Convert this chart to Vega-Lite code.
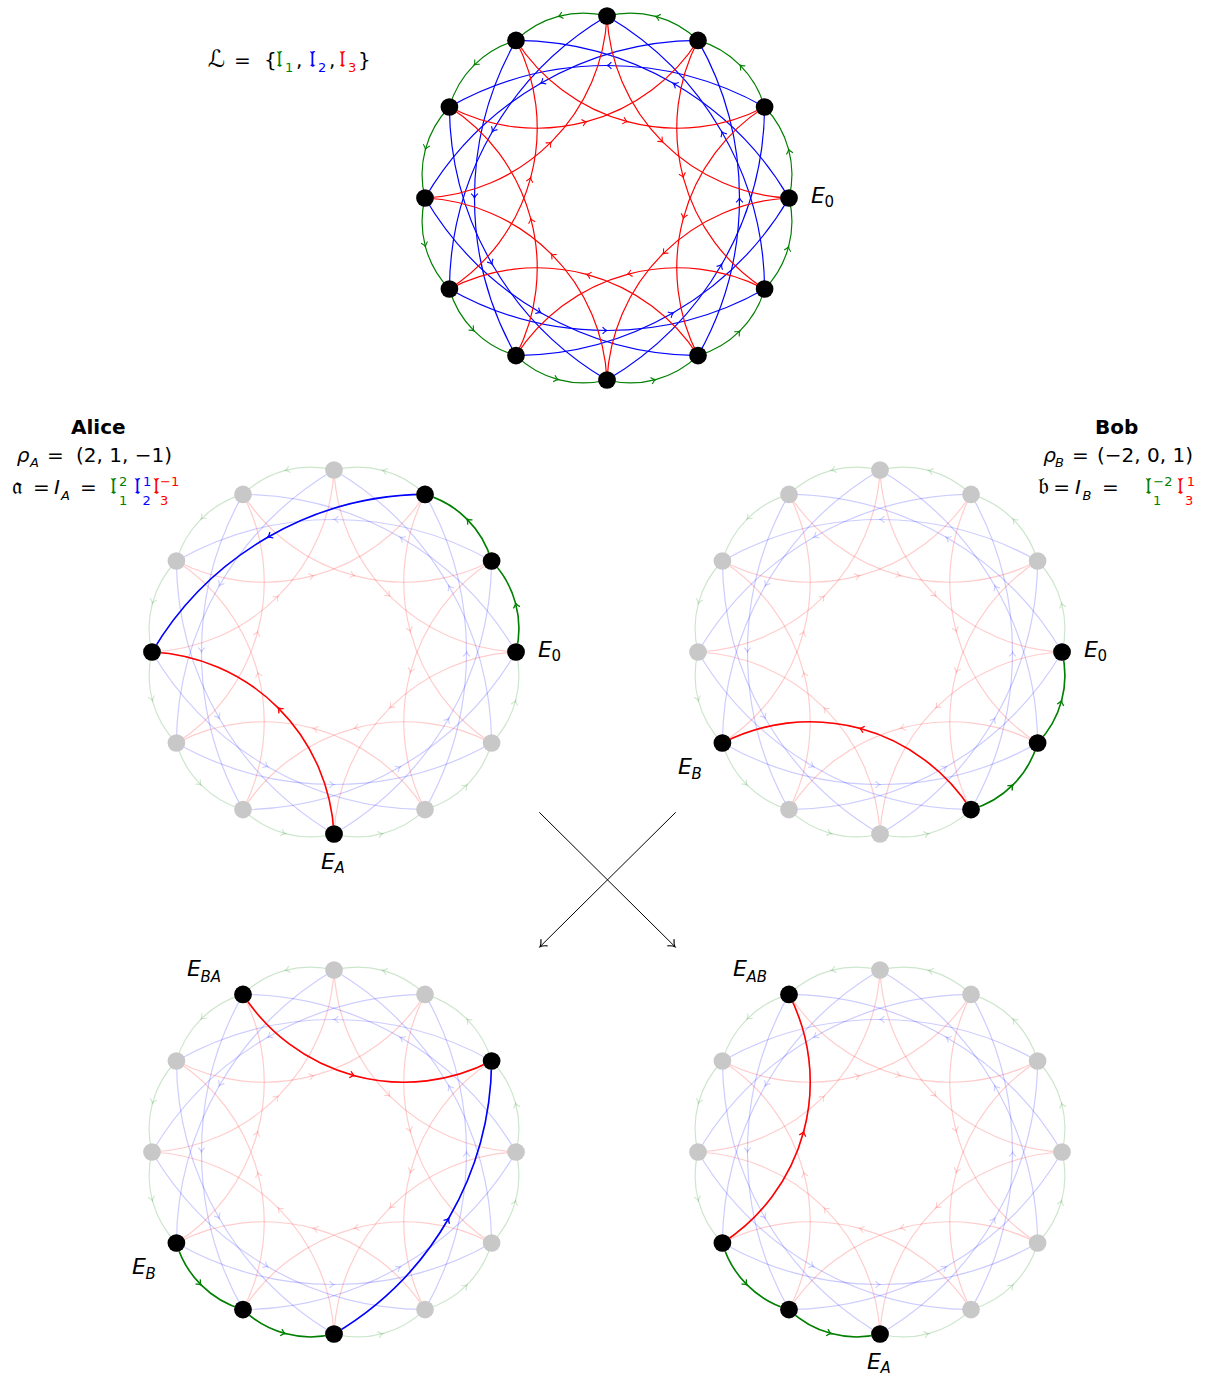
{
"$schema": "https://vega.github.io/schema/vega-lite/v6.json",
"padding": 0,
"background": "white",
"spacing": 0,
"bounds": "flush",
"config": {"view": {"stroke": null}, "axis": {"disable": true}, "header": {"labels": false, "title": null, "labelExpr": "''", "labelColor": "transparent"}, "headerFacet": {"labels": false, "title": null, "labelExpr": "''", "labelColor": "transparent"}},
"datasets": {
"geo": [
{"k":"a","c":"g","x":23.55,"y":-87.9,"t1":-0.2452,"t2":0.7688,"h":[],"ps":["A","B","BA","AB"]},
{"k":"a","c":"g","x":64.35,"y":-64.35,"t1":0.2784,"t2":1.2924,"h":["A"],"ps":["A","B","BA","AB"]},
{"k":"a","c":"g","x":87.9,"y":-23.55,"t1":0.802,"t2":1.816,"h":["A"],"ps":["A","B","BA","AB"]},
{"k":"a","c":"g","x":87.9,"y":23.55,"t1":1.3256,"t2":2.3396,"h":["B"],"ps":["A","B","BA","AB"]},
{"k":"a","c":"g","x":64.35,"y":64.35,"t1":1.8492,"t2":2.8632,"h":["B"],"ps":["A","B","BA","AB"]},
{"k":"a","c":"g","x":23.55,"y":87.9,"t1":2.3728,"t2":3.3868,"h":[],"ps":["A","B","BA","AB"]},
{"k":"a","c":"g","x":-23.55,"y":87.9,"t1":2.8964,"t2":3.9104,"h":["BA","AB"],"ps":["A","B","BA","AB"]},
{"k":"a","c":"g","x":-64.35,"y":64.35,"t1":3.42,"t2":4.434,"h":["BA","AB"],"ps":["A","B","BA","AB"]},
{"k":"a","c":"g","x":-87.9,"y":23.55,"t1":3.9436,"t2":4.9576,"h":[],"ps":["A","B","BA","AB"]},
{"k":"a","c":"g","x":-87.9,"y":-23.55,"t1":4.4672,"t2":5.4812,"h":[],"ps":["A","B","BA","AB"]},
{"k":"a","c":"g","x":-64.35,"y":-64.35,"t1":4.9908,"t2":6.0048,"h":[],"ps":["A","B","BA","AB"]},
{"k":"a","c":"g","x":-23.55,"y":-87.9,"t1":5.5144,"t2":6.5284,"h":[],"ps":["A","B","BA","AB"]},
{"k":"a","c":"b","x":0,"y":187.6,"t1":-0.5149,"t2":0.5149,"h":[],"ps":["A","B","BA","AB"]},
{"k":"a","c":"b","x":-93.8,"y":162.46,"t1":0.0087,"t2":1.0385,"h":[],"ps":["A","B","BA","AB"]},
{"k":"a","c":"b","x":-162.46,"y":93.8,"t1":0.5323,"t2":1.5621,"h":[],"ps":["A","B","BA","AB"]},
{"k":"a","c":"b","x":-187.6,"y":0,"t1":1.0559,"t2":2.0857,"h":[],"ps":["A","B","BA","AB"]},
{"k":"a","c":"b","x":-162.46,"y":-93.8,"t1":1.5795,"t2":2.6093,"h":["BA"],"ps":["A","B","BA","AB"]},
{"k":"a","c":"b","x":-93.8,"y":-162.46,"t1":2.1031,"t2":3.1329,"h":[],"ps":["A","B","BA","AB"]},
{"k":"a","c":"b","x":0,"y":-187.6,"t1":2.6267,"t2":3.6565,"h":[],"ps":["A","B","BA","AB"]},
{"k":"a","c":"b","x":93.8,"y":-162.46,"t1":3.1503,"t2":4.1801,"h":[],"ps":["A","B","BA","AB"]},
{"k":"a","c":"b","x":162.46,"y":-93.8,"t1":3.6739,"t2":4.7037,"h":[],"ps":["A","B","BA","AB"]},
{"k":"a","c":"b","x":187.6,"y":0,"t1":4.1975,"t2":5.2273,"h":[],"ps":["A","B","BA","AB"]},
{"k":"a","c":"b","x":162.46,"y":93.8,"t1":4.7211,"t2":5.7509,"h":[],"ps":["A","B","BA","AB"]},
{"k":"a","c":"b","x":93.8,"y":162.46,"t1":5.2447,"t2":6.2745,"h":["A"],"ps":["A","B","BA","AB"]},
{"k":"a","c":"r","x":191.27,"y":-191.27,"t1":3.1905,"t2":4.6635,"h":[],"ps":["A","B","BA","AB"]},
{"k":"a","c":"r","x":261.28,"y":-70.01,"t1":3.7141,"t2":5.1871,"h":[],"ps":["A","B","BA","AB"]},
{"k":"a","c":"r","x":261.28,"y":70.01,"t1":4.2377,"t2":5.7107,"h":[],"ps":["A","B","BA","AB"]},
{"k":"a","c":"r","x":191.27,"y":191.27,"t1":4.7613,"t2":6.2343,"h":[],"ps":["A","B","BA","AB"]},
{"k":"a","c":"r","x":70.01,"y":261.28,"t1":5.2849,"t2":6.7579,"h":[],"ps":["A","B","BA","AB"]},
{"k":"a","c":"r","x":-70.01,"y":261.28,"t1":5.8085,"t2":7.2815,"h":["B"],"ps":["A","B","BA","AB"]},
{"k":"a","c":"r","x":-191.27,"y":191.27,"t1":6.3321,"t2":7.8051,"h":["A"],"ps":["A","B","BA","AB"]},
{"k":"a","c":"r","x":-261.28,"y":70.01,"t1":6.8557,"t2":8.3287,"h":[],"ps":["A","B","BA","AB"]},
{"k":"a","c":"r","x":-261.28,"y":-70.01,"t1":7.3793,"t2":8.8523,"h":["AB"],"ps":["A","B","BA","AB"]},
{"k":"a","c":"r","x":-191.27,"y":-191.27,"t1":7.9029,"t2":9.3759,"h":[],"ps":["A","B","BA","AB"]},
{"k":"a","c":"r","x":-70.01,"y":-261.28,"t1":8.4265,"t2":9.8995,"h":[],"ps":["A","B","BA","AB"]},
{"k":"a","c":"r","x":70.01,"y":-261.28,"t1":8.9501,"t2":10.4231,"h":["BA"],"ps":["A","B","BA","AB"]},
{"k":"w","c":"g","x":48.66,"y":-181.59,"dir":195,"h":[],"ps":["A","B","BA","AB"]},
{"k":"w","c":"g","x":132.93,"y":-132.93,"dir":225,"h":["A"],"ps":["A","B","BA","AB"]},
{"k":"w","c":"g","x":181.59,"y":-48.66,"dir":255,"h":["A"],"ps":["A","B","BA","AB"]},
{"k":"w","c":"g","x":181.59,"y":48.66,"dir":285,"h":["B"],"ps":["A","B","BA","AB"]},
{"k":"w","c":"g","x":132.93,"y":132.93,"dir":315,"h":["B"],"ps":["A","B","BA","AB"]},
{"k":"w","c":"g","x":48.66,"y":181.59,"dir":345,"h":[],"ps":["A","B","BA","AB"]},
{"k":"w","c":"g","x":-48.66,"y":181.59,"dir":15,"h":["BA","AB"],"ps":["A","B","BA","AB"]},
{"k":"w","c":"g","x":-132.93,"y":132.93,"dir":45,"h":["BA","AB"],"ps":["A","B","BA","AB"]},
{"k":"w","c":"g","x":-181.59,"y":48.66,"dir":75,"h":[],"ps":["A","B","BA","AB"]},
{"k":"w","c":"g","x":-181.59,"y":-48.66,"dir":105,"h":[],"ps":["A","B","BA","AB"]},
{"k":"w","c":"g","x":-132.93,"y":-132.93,"dir":135,"h":[],"ps":["A","B","BA","AB"]},
{"k":"w","c":"g","x":-48.66,"y":-181.59,"dir":165,"h":[],"ps":["A","B","BA","AB"]},
{"k":"w","c":"b","x":0,"y":-132.5,"dir":180,"h":[],"ps":["A","B","BA","AB"]},
{"k":"w","c":"b","x":66.25,"y":-114.75,"dir":210,"h":[],"ps":["A","B","BA","AB"]},
{"k":"w","c":"b","x":114.75,"y":-66.25,"dir":240,"h":[],"ps":["A","B","BA","AB"]},
{"k":"w","c":"b","x":132.5,"y":0,"dir":270,"h":[],"ps":["A","B","BA","AB"]},
{"k":"w","c":"b","x":114.75,"y":66.25,"dir":300,"h":["BA"],"ps":["A","B","BA","AB"]},
{"k":"w","c":"b","x":66.25,"y":114.75,"dir":330,"h":[],"ps":["A","B","BA","AB"]},
{"k":"w","c":"b","x":0,"y":132.5,"dir":0,"h":[],"ps":["A","B","BA","AB"]},
{"k":"w","c":"b","x":-66.25,"y":114.75,"dir":30,"h":[],"ps":["A","B","BA","AB"]},
{"k":"w","c":"b","x":-114.75,"y":66.25,"dir":60,"h":[],"ps":["A","B","BA","AB"]},
{"k":"w","c":"b","x":-132.5,"y":0,"dir":90,"h":[],"ps":["A","B","BA","AB"]},
{"k":"w","c":"b","x":-114.75,"y":-66.25,"dir":120,"h":[],"ps":["A","B","BA","AB"]},
{"k":"w","c":"b","x":-66.25,"y":-114.75,"dir":150,"h":["A"],"ps":["A","B","BA","AB"]},
{"k":"w","c":"r","x":55.86,"y":-55.86,"dir":45,"h":[],"ps":["A","B","BA","AB"]},
{"k":"w","c":"r","x":76.31,"y":-20.45,"dir":75,"h":[],"ps":["A","B","BA","AB"]},
{"k":"w","c":"r","x":76.31,"y":20.45,"dir":105,"h":[],"ps":["A","B","BA","AB"]},
{"k":"w","c":"r","x":55.86,"y":55.86,"dir":135,"h":[],"ps":["A","B","BA","AB"]},
{"k":"w","c":"r","x":20.45,"y":76.31,"dir":165,"h":[],"ps":["A","B","BA","AB"]},
{"k":"w","c":"r","x":-20.45,"y":76.31,"dir":195,"h":["B"],"ps":["A","B","BA","AB"]},
{"k":"w","c":"r","x":-55.86,"y":55.86,"dir":225,"h":["A"],"ps":["A","B","BA","AB"]},
{"k":"w","c":"r","x":-76.31,"y":20.45,"dir":255,"h":[],"ps":["A","B","BA","AB"]},
{"k":"w","c":"r","x":-76.31,"y":-20.45,"dir":285,"h":["AB"],"ps":["A","B","BA","AB"]},
{"k":"w","c":"r","x":-55.86,"y":-55.86,"dir":315,"h":[],"ps":["A","B","BA","AB"]},
{"k":"w","c":"r","x":-20.45,"y":-76.31,"dir":345,"h":[],"ps":["A","B","BA","AB"]},
{"k":"w","c":"r","x":20.45,"y":-76.31,"dir":15,"h":["BA"],"ps":["A","B","BA","AB"]},
{"k":"n","x":0,"y":-182,"h":[],"ps":["A","B","BA","AB"]},
{"k":"n","x":91,"y":-157.6,"h":["A"],"ps":["A","B","BA","AB"]},
{"k":"n","x":157.6,"y":-91,"h":["A","BA"],"ps":["A","B","BA","AB"]},
{"k":"n","x":182,"y":0,"h":["A","B"],"ps":["A","B","BA","AB"]},
{"k":"n","x":157.6,"y":91,"h":["B"],"ps":["A","B","BA","AB"]},
{"k":"n","x":91,"y":157.6,"h":["B"],"ps":["A","B","BA","AB"]},
{"k":"n","x":0,"y":182,"h":["A","BA","AB"],"ps":["A","B","BA","AB"]},
{"k":"n","x":-91,"y":157.6,"h":["BA","AB"],"ps":["A","B","BA","AB"]},
{"k":"n","x":-157.6,"y":91,"h":["B","BA","AB"],"ps":["A","B","BA","AB"]},
{"k":"n","x":-182,"y":0,"h":["A"],"ps":["A","B","BA","AB"]},
{"k":"n","x":-157.6,"y":-91,"h":[],"ps":["A","B","BA","AB"]},
{"k":"n","x":-91,"y":-157.6,"h":["BA","AB"],"ps":["A","B","BA","AB"]},
{"k":"x","x":205.3,"y":160.3,"x2":341,"y2":294.7,"dir":44.7,"ps":["A"]},
{"k":"x","x":341.7,"y":160.3,"x2":206,"y2":294.7,"dir":135.3,"ps":["A"]},
{"k":"t","t":"E","x":204,"y":4.7,"role":"E","c":"k","ps":["A","B"]},
{"k":"t","t":"0","x":217.5,"y":9.3,"role":"Eu","c":"k","ps":["A","B"]},
{"k":"t","t":"E","x":-13,"y":216.5,"role":"E","c":"k","ps":["A","AB"]},
{"k":"t","t":"A","x":0.5,"y":221,"role":"Es","c":"k","ps":["A","AB"]},
{"k":"t","t":"E","x":-202,"y":122,"role":"E","c":"k","ps":["B","BA"]},
{"k":"t","t":"B","x":-188.5,"y":127,"role":"Es","c":"k","ps":["B","BA"]},
{"k":"t","t":"E","x":-147,"y":-176.3,"role":"E","c":"k","ps":["BA","AB"]},
{"k":"t","t":"BA","x":-133.5,"y":-169.7,"role":"Es","c":"k","ps":["BA"]},
{"k":"t","t":"AB","x":-133.5,"y":-169.7,"role":"Es","c":"k","ps":["AB"]},
{"k":"t","t":"Alice","x":-235.7,"y":-217.7,"role":"h","c":"k","ps":["A"]},
{"k":"t","t":"ρ","x":-317.3,"y":-190,"role":"v","c":"k","ps":["A"]},
{"k":"t","t":"A","x":-304,"y":-185,"role":"vs","c":"k","ps":["A"]},
{"k":"t","t":"=","x":-287,"y":-190,"role":"o","c":"k","ps":["A"]},
{"k":"t","t":"(2, 1, −1)","x":-258,"y":-190,"role":"o","c":"k","ps":["A"]},
{"k":"t","t":"𝔞","x":-322.3,"y":-158,"role":"f","c":"k","ps":["A"]},
{"k":"t","t":"=","x":-301,"y":-158,"role":"o","c":"k","ps":["A"]},
{"k":"t","t":"I","x":-280,"y":-158,"role":"v","c":"k","ps":["A"]},
{"k":"t","t":"A","x":-273,"y":-152,"role":"vs","c":"k","ps":["A"]},
{"k":"t","t":"=","x":-254,"y":-158,"role":"o","c":"k","ps":["A"]},
{"k":"t","t":"𝔩","x":-224,"y":-158,"role":"f","c":"g","ps":["A"]},
{"k":"t","t":"2","x":-215,"y":-166,"role":"ns","c":"g","ps":["A"]},
{"k":"t","t":"1","x":-215,"y":-147,"role":"ns","c":"g","ps":["A"]},
{"k":"t","t":"𝔩","x":-200,"y":-158,"role":"f","c":"b","ps":["A"]},
{"k":"t","t":"1","x":-191,"y":-166,"role":"ns","c":"b","ps":["A"]},
{"k":"t","t":"2","x":-191.5,"y":-147,"role":"ns","c":"b","ps":["A"]},
{"k":"t","t":"𝔩","x":-181,"y":-158,"role":"f","c":"r","ps":["A"]},
{"k":"t","t":"−1","x":-174,"y":-166,"role":"ns","c":"r","ps":["A"]},
{"k":"t","t":"3","x":-174,"y":-147,"role":"ns","c":"r","ps":["A"]},
{"k":"t","t":"Bob","x":236.7,"y":-217.7,"role":"h","c":"k","ps":["B"]},
{"k":"t","t":"ρ","x":163.3,"y":-190,"role":"v","c":"k","ps":["B"]},
{"k":"t","t":"B","x":175,"y":-185,"role":"vs","c":"k","ps":["B"]},
{"k":"t","t":"=","x":192,"y":-190,"role":"o","c":"k","ps":["B"]},
{"k":"t","t":"(−2, 0, 1)","x":217,"y":-190,"role":"o","c":"k","ps":["B"]},
{"k":"t","t":"𝔟","x":158.3,"y":-158,"role":"f","c":"k","ps":["B"]},
{"k":"t","t":"=","x":173.3,"y":-158,"role":"o","c":"k","ps":["B"]},
{"k":"t","t":"I","x":195,"y":-158,"role":"v","c":"k","ps":["B"]},
{"k":"t","t":"B","x":202.5,"y":-152,"role":"vs","c":"k","ps":["B"]},
{"k":"t","t":"=","x":222,"y":-158,"role":"o","c":"k","ps":["B"]},
{"k":"t","t":"𝔩","x":265,"y":-158,"role":"f","c":"g","ps":["B"]},
{"k":"t","t":"−2","x":273.3,"y":-166,"role":"ns","c":"g","ps":["B"]},
{"k":"t","t":"1","x":273,"y":-147,"role":"ns","c":"g","ps":["B"]},
{"k":"t","t":"𝔩","x":297,"y":-158,"role":"f","c":"r","ps":["B"]},
{"k":"t","t":"1","x":306.7,"y":-166,"role":"ns","c":"r","ps":["B"]},
{"k":"t","t":"3","x":305,"y":-147,"role":"ns","c":"r","ps":["B"]}
],
"top": [
{"t":"E","x":204,"y":4.7,"role":"E","c":"k"},
{"t":"0","x":217.5,"y":9.3,"role":"Eu","c":"k"},
{"t":"ℒ","x":-399,"y":-131,"role":"f","c":"k"},
{"t":"=","x":-373,"y":-131,"role":"o","c":"k"},
{"t":"{","x":-343,"y":-131,"role":"o","c":"k"},
{"t":"𝔩","x":-331,"y":-131,"role":"f","c":"g"},
{"t":"1","x":-322,"y":-126,"role":"ns","c":"g"},
{"t":",","x":-311,"y":-131,"role":"o","c":"k"},
{"t":"𝔩","x":-298,"y":-131,"role":"f","c":"b"},
{"t":"2","x":-289,"y":-126,"role":"ns","c":"b"},
{"t":",","x":-278,"y":-131,"role":"o","c":"k"},
{"t":"𝔩","x":-268,"y":-131,"role":"f","c":"r"},
{"t":"3","x":-259,"y":-126,"role":"ns","c":"r"},
{"t":"}","x":-249,"y":-131,"role":"o","c":"k"}
]
},
"vconcat": [
{
"width": 1211, "height": 402,
"data": {"name": "geo"},
"encoding": {
"x": {"field": "x", "type": "quantitative", "scale": {"domain": [-607, 604], "nice": false, "zero": false}},
"y": {"field": "y", "type": "quantitative", "scale": {"domain": [-198, 204], "nice": false, "zero": false, "reverse": true}}
},
"layer": [
{"transform": [{"filter": "datum.k=='a' && datum.c=='g'"}], "mark": {"type": "arc", "filled": false, "radius": 97, "radius2": 97, "strokeWidth": 1.2}, "encoding": {"theta": {"field": "t1", "type": "quantitative", "scale": null, "stack": null}, "theta2": {"field": "t2"}, "stroke": {"field": "c", "type": "nominal", "scale": {"domain": ["g","b","r"], "range": ["#008000","#0000ff","#ff0000"]}, "legend": null}}},
{"transform": [{"filter": "datum.k=='a' && datum.c=='b'"}], "mark": {"type": "arc", "filled": false, "radius": 320.1, "radius2": 320.1, "strokeWidth": 1.2}, "encoding": {"theta": {"field": "t1", "type": "quantitative", "scale": null, "stack": null}, "theta2": {"field": "t2"}, "stroke": {"field": "c", "type": "nominal", "scale": {"domain": ["g","b","r"], "range": ["#008000","#0000ff","#ff0000"]}, "legend": null}}},
{"transform": [{"filter": "datum.k=='a' && datum.c=='r'"}], "mark": {"type": "arc", "filled": false, "radius": 191.5, "radius2": 191.5, "strokeWidth": 1.2}, "encoding": {"theta": {"field": "t1", "type": "quantitative", "scale": null, "stack": null}, "theta2": {"field": "t2"}, "stroke": {"field": "c", "type": "nominal", "scale": {"domain": ["g","b","r"], "range": ["#008000","#0000ff","#ff0000"]}, "legend": null}}},
{"transform": [{"filter": "datum.k=='w'"}], "mark": {"type": "point", "shape": "M-1.1,-0.85Q-0.5,-0.15,0,0Q-0.5,0.15,-1.1,0.85", "size": 64, "strokeWidth": 1.1, "opacity": 1, "filled": false}, "encoding": {"angle": {"field": "dir", "type": "quantitative", "scale": null}, "stroke": {"field": "c", "type": "nominal", "scale": {"domain": ["g","b","r"], "range": ["#008000","#0000ff","#ff0000"]}, "legend": null}}},
{"transform": [{"filter": "datum.k=='n'"}], "mark": {"type": "circle", "size": 314, "color": "#000000", "opacity": 1}},
{"data": {"name": "top"}, "transform": [{"filter": "datum.role=='E' || datum.role=='Es' || datum.role=='v' || datum.role=='vs'"}], "mark": {"type": "text", "align": "left", "baseline": "alphabetic", "font": "DejaVu Sans", "fontStyle": "italic"}, "encoding": {"text": {"field": "t"}, "size": {"field": "role", "type": "ordinal", "scale": {"type": "ordinal", "domain": ["E","Es","Eu","v","o","vs","ns","h","f"], "range": [22,15,15,20,20,13,13,20,24]}, "legend": null}, "color": {"field": "c", "type": "nominal", "scale": {"domain": ["k","g","b","r"], "range": ["#000000","#008000","#0000ff","#ff0000"]}, "legend": null}}},
{"data": {"name": "top"}, "transform": [{"filter": "datum.role=='Eu' || datum.role=='o' || datum.role=='ns' || datum.role=='f'"}], "mark": {"type": "text", "align": "left", "baseline": "alphabetic", "font": "DejaVu Sans"}, "encoding": {"text": {"field": "t"}, "size": {"field": "role", "type": "ordinal", "scale": {"type": "ordinal", "domain": ["E","Es","Eu","v","o","vs","ns","h","f"], "range": [22,15,15,20,20,13,13,20,24]}, "legend": null}, "color": {"field": "c", "type": "nominal", "scale": {"domain": ["k","g","b","r"], "range": ["#000000","#008000","#0000ff","#ff0000"]}, "legend": null}}}
]
},
{
"data": {"name": "geo"},
"transform": [{"flatten": ["ps"], "as": ["p"]}],
"facet": {"field": "p", "type": "nominal", "sort": ["A","B","BA","AB"], "title": null, "header": {"labels": false, "title": null, "labelExpr": "''", "labelColor": "transparent"}},
"columns": 2,
"spacing": {"row": 26, "column": 0},
"bounds": "flush",
"spec": {
"width": 546, "height": 474,
"encoding": {
"x": {"field": "x", "type": "quantitative", "scale": {"domain": [-334, 212], "nice": false, "zero": false}},
"y": {"field": "y", "type": "quantitative", "scale": {"domain": [-250, 224], "nice": false, "zero": false, "reverse": true}}
},
"layer": [
{"transform": [{"filter": "datum.k=='a' && datum.c=='g'"}], "mark": {"type": "arc", "filled": false, "radius": 97, "radius2": 97, "strokeWidth": 1.2, "strokeOpacity": 0.2}, "encoding": {"theta": {"field": "t1", "type": "quantitative", "scale": null, "stack": null}, "theta2": {"field": "t2"}, "stroke": {"field": "c", "type": "nominal", "scale": {"domain": ["g","b","r"], "range": ["#008000","#0000ff","#ff0000"]}, "legend": null}}},
{"transform": [{"filter": "datum.k=='a' && datum.c=='b'"}], "mark": {"type": "arc", "filled": false, "radius": 320.1, "radius2": 320.1, "strokeWidth": 1.2, "strokeOpacity": 0.2}, "encoding": {"theta": {"field": "t1", "type": "quantitative", "scale": null, "stack": null}, "theta2": {"field": "t2"}, "stroke": {"field": "c", "type": "nominal", "scale": {"domain": ["g","b","r"], "range": ["#008000","#0000ff","#ff0000"]}, "legend": null}}},
{"transform": [{"filter": "datum.k=='a' && datum.c=='r'"}], "mark": {"type": "arc", "filled": false, "radius": 191.5, "radius2": 191.5, "strokeWidth": 1.2, "strokeOpacity": 0.2}, "encoding": {"theta": {"field": "t1", "type": "quantitative", "scale": null, "stack": null}, "theta2": {"field": "t2"}, "stroke": {"field": "c", "type": "nominal", "scale": {"domain": ["g","b","r"], "range": ["#008000","#0000ff","#ff0000"]}, "legend": null}}},
{"transform": [{"filter": "datum.k=='w'"}], "mark": {"type": "point", "shape": "M-1.1,-0.85Q-0.5,-0.15,0,0Q-0.5,0.15,-1.1,0.85", "size": 64, "strokeWidth": 1.1, "opacity": 1, "strokeOpacity": 0.2, "filled": false}, "encoding": {"angle": {"field": "dir", "type": "quantitative", "scale": null}, "stroke": {"field": "c", "type": "nominal", "scale": {"domain": ["g","b","r"], "range": ["#008000","#0000ff","#ff0000"]}, "legend": null}}},
{"transform": [{"filter": "datum.k=='a' && datum.c=='g' && indexof(datum.h, datum.p) >= 0"}], "mark": {"type": "arc", "filled": false, "radius": 97, "radius2": 97, "strokeWidth": 1.6}, "encoding": {"theta": {"field": "t1", "type": "quantitative", "scale": null, "stack": null}, "theta2": {"field": "t2"}, "stroke": {"field": "c", "type": "nominal", "scale": {"domain": ["g","b","r"], "range": ["#008000","#0000ff","#ff0000"]}, "legend": null}}},
{"transform": [{"filter": "datum.k=='a' && datum.c=='b' && indexof(datum.h, datum.p) >= 0"}], "mark": {"type": "arc", "filled": false, "radius": 320.1, "radius2": 320.1, "strokeWidth": 1.6}, "encoding": {"theta": {"field": "t1", "type": "quantitative", "scale": null, "stack": null}, "theta2": {"field": "t2"}, "stroke": {"field": "c", "type": "nominal", "scale": {"domain": ["g","b","r"], "range": ["#008000","#0000ff","#ff0000"]}, "legend": null}}},
{"transform": [{"filter": "datum.k=='a' && datum.c=='r' && indexof(datum.h, datum.p) >= 0"}], "mark": {"type": "arc", "filled": false, "radius": 191.5, "radius2": 191.5, "strokeWidth": 1.6}, "encoding": {"theta": {"field": "t1", "type": "quantitative", "scale": null, "stack": null}, "theta2": {"field": "t2"}, "stroke": {"field": "c", "type": "nominal", "scale": {"domain": ["g","b","r"], "range": ["#008000","#0000ff","#ff0000"]}, "legend": null}}},
{"transform": [{"filter": "datum.k=='w' && indexof(datum.h, datum.p) >= 0"}], "mark": {"type": "point", "shape": "M-1.1,-0.85Q-0.5,-0.15,0,0Q-0.5,0.15,-1.1,0.85", "size": 64, "strokeWidth": 1.3, "opacity": 1, "filled": false}, "encoding": {"angle": {"field": "dir", "type": "quantitative", "scale": null}, "stroke": {"field": "c", "type": "nominal", "scale": {"domain": ["g","b","r"], "range": ["#008000","#0000ff","#ff0000"]}, "legend": null}}},
{"transform": [{"filter": "datum.k=='n'"}], "mark": {"type": "circle", "size": 314, "color": "#c8c8c8", "opacity": 1}},
{"transform": [{"filter": "datum.k=='n' && indexof(datum.h, datum.p) >= 0"}], "mark": {"type": "circle", "size": 314, "color": "#000000", "opacity": 1}},
{"transform": [{"filter": "datum.k=='x'"}], "mark": {"type": "rule", "color": "#000000", "strokeWidth": 1, "clip": false}, "encoding": {"x2": {"field": "x2"}, "y2": {"field": "y2"}}},
{"transform": [{"filter": "datum.k=='x'"}], "mark": {"type": "point", "shape": "M-1.2,-0.95Q-0.5,-0.15,0,0Q-0.5,0.15,-1.2,0.95", "size": 100, "strokeWidth": 1.1, "opacity": 1, "filled": false, "color": "#000000", "clip": false}, "encoding": {"x": {"field": "x2", "type": "quantitative"}, "y": {"field": "y2", "type": "quantitative"}, "angle": {"field": "dir", "type": "quantitative", "scale": null}}},
{"transform": [{"filter": "datum.k=='t' && (datum.role=='E' || datum.role=='Es' || datum.role=='v' || datum.role=='vs')"}], "mark": {"type": "text", "align": "left", "baseline": "alphabetic", "font": "DejaVu Sans", "fontStyle": "italic", "clip": false}, "encoding": {"text": {"field": "t"}, "size": {"field": "role", "type": "ordinal", "scale": {"type": "ordinal", "domain": ["E","Es","Eu","v","o","vs","ns","h","f"], "range": [22,15,15,20,20,13,13,20,24]}, "legend": null}, "color": {"field": "c", "type": "nominal", "scale": {"domain": ["k","g","b","r"], "range": ["#000000","#008000","#0000ff","#ff0000"]}, "legend": null}}},
{"transform": [{"filter": "datum.k=='t' && (datum.role=='Eu' || datum.role=='o' || datum.role=='ns' || datum.role=='f')"}], "mark": {"type": "text", "align": "left", "baseline": "alphabetic", "font": "DejaVu Sans", "clip": false}, "encoding": {"text": {"field": "t"}, "size": {"field": "role", "type": "ordinal", "scale": {"type": "ordinal", "domain": ["E","Es","Eu","v","o","vs","ns","h","f"], "range": [22,15,15,20,20,13,13,20,24]}, "legend": null}, "color": {"field": "c", "type": "nominal", "scale": {"domain": ["k","g","b","r"], "range": ["#000000","#008000","#0000ff","#ff0000"]}, "legend": null}}},
{"transform": [{"filter": "datum.k=='t' && datum.role=='h'"}], "mark": {"type": "text", "align": "center", "baseline": "alphabetic", "font": "DejaVu Sans", "fontWeight": "bold", "clip": false}, "encoding": {"text": {"field": "t"}, "size": {"field": "role", "type": "ordinal", "scale": {"type": "ordinal", "domain": ["E","Es","Eu","v","o","vs","ns","h","f"], "range": [22,15,15,20,20,13,13,20,24]}, "legend": null}, "color": {"field": "c", "type": "nominal", "scale": {"domain": ["k","g","b","r"], "range": ["#000000","#008000","#0000ff","#ff0000"]}, "legend": null}}}
]
}
}
]
}
